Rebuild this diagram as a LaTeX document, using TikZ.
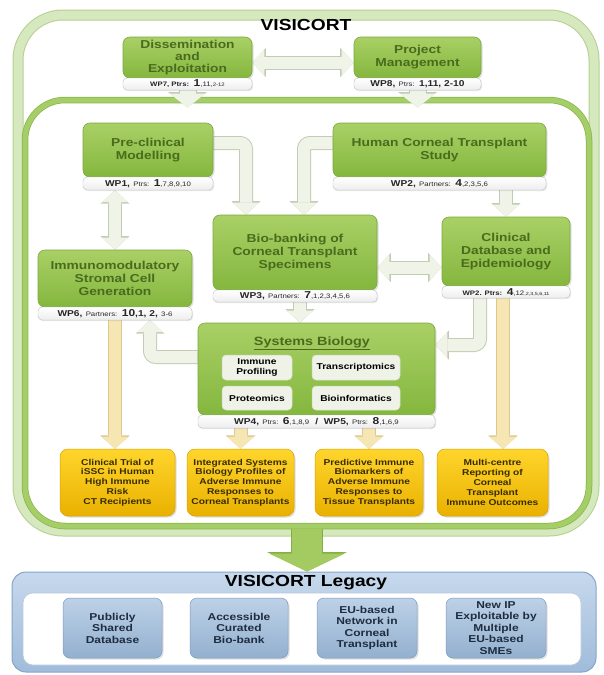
\documentclass[tikz,border=0pt]{standalone}
\usepackage{fontspec}
\setmainfont{Liberation Sans}[FakeStretch=1.2]
\usetikzlibrary{arrows.meta,shadows}
\pgfdeclarelayer{bg}
\pgfsetlayers{bg,main}

\definecolor{gtop}{HTML}{A9D066}
\definecolor{gbot}{HTML}{84B73E}
\definecolor{gedge}{HTML}{7BA93C}
\definecolor{gtext}{HTML}{4A6B1E}
\definecolor{ofill}{HTML}{D5E8BE}
\definecolor{oedge}{HTML}{B4D091}
\definecolor{cfill}{HTML}{A6CE68}
\definecolor{cedge}{HTML}{89B54A}
\definecolor{afill}{HTML}{EFF3E8}
\definecolor{aedge}{HTML}{C2CCB3}
\definecolor{tfill}{HTML}{F6E6B4}
\definecolor{tedge}{HTML}{DFC88E}
\definecolor{bfill}{HTML}{A3CB62}
\definecolor{bedge}{HTML}{83B043}
\definecolor{ytop}{HTML}{FFD52C}
\definecolor{ybot}{HTML}{E9B100}
\definecolor{yedge}{HTML}{D6A200}
\definecolor{ytext}{HTML}{3A2C00}
\definecolor{ltop}{HTML}{BDD1E7}
\definecolor{lbot}{HTML}{93B0CF}
\definecolor{ledge}{HTML}{7D9BBE}
\definecolor{ltext}{HTML}{1E2D40}
\definecolor{lftop}{HTML}{C6D8EC}
\definecolor{lfbot}{HTML}{A0BCDA}
\definecolor{lfedge}{HTML}{86A5C8}
\definecolor{subfill}{HTML}{EEF2E7}
\definecolor{subedge}{HTML}{D3DCC6}

% label parts
\newcommand{\wpid}[1]{{\fontsize{8.5}{10}\selectfont\bfseries #1}}
\newcommand{\wpsm}[1]{{\fontsize{6.5}{10}\selectfont #1}}
\newcommand{\wpno}[1]{{\fontsize{10}{10}\selectfont\bfseries #1}}

\begin{document}
\begin{tikzpicture}[x=1pt,y=-1pt,
  outerframe/.style={draw=ofill, line width=9pt, rounded corners=45pt,
    preaction={draw=oedge, line width=11pt}},
  coreframe/.style={draw=cfill, line width=5pt, rounded corners=40pt,
    preaction={draw=cedge, line width=6.5pt}},
  legframe/.style={draw=lfedge, line width=1pt, top color=lftop, bottom color=lfbot,
    rounded corners=14pt},
  leginner/.style={fill=white, draw=lfedge!60, line width=0.6pt, rounded corners=10pt},
  wpbox/.style={rectangle, rounded corners=7pt, draw=gedge, line width=0.6pt,
    top color=gtop, bottom color=gbot, text=gtext, align=center, inner sep=1pt,
    font=\bfseries\fontsize{11.5}{13}\selectfont,
    drop shadow={opacity=0.25, shadow xshift=1.5pt, shadow yshift=-1.5pt}},
  wplab/.style={rectangle, rounded corners=4pt, draw=black!25, line width=0.4pt,
    top color=white, bottom color=black!7, inner sep=0pt, minimum height=12pt,
    text=black!85, drop shadow={opacity=0.2, shadow xshift=1pt, shadow yshift=-1pt}},
  subbox/.style={rectangle, rounded corners=4pt, fill=subfill, draw=subedge,
    line width=0.5pt, align=center, inner sep=1pt,
    font=\bfseries\fontsize{8.5}{9.5}\selectfont},
  ybox/.style={rectangle, rounded corners=8pt, top color=ytop, bottom color=ybot,
    draw=yedge, line width=0.5pt, align=center, text=ytext, inner sep=1pt,
    minimum height=67pt, font=\bfseries\fontsize{8.5}{9.8}\selectfont,
    drop shadow={opacity=0.25, shadow xshift=1.5pt, shadow yshift=-1.5pt}},
  lbox/.style={rectangle, rounded corners=7pt, top color=ltop, bottom color=lbot,
    draw=ledge, line width=0.5pt, align=center, text=ltext, inner sep=1pt,
    minimum height=60pt, font=\bfseries\fontsize{10}{11.5}\selectfont,
    drop shadow={opacity=0.25, shadow xshift=1.5pt, shadow yshift=-1.5pt}},
  garrow/.style={draw=afill, line width=12pt, rounded corners=6pt,
    -{Triangle[width=26pt,length=12pt,line width=0pt]},
    preaction={draw=aedge, line width=14pt,
      -{Triangle[width=29pt,length=13.5pt,line width=0pt]}}},
  gboth/.style={draw=afill, line width=12pt,
    {Triangle[width=26pt,length=12pt,line width=0pt]}-{Triangle[width=26pt,length=12pt,line width=0pt]},
    preaction={draw=aedge, line width=14pt,
      {Triangle[width=29pt,length=13.5pt,line width=0pt]}-{Triangle[width=29pt,length=13.5pt,line width=0pt]}}},
  gdown/.style={draw=afill, line width=16pt,
    -{Triangle[width=36pt,length=14pt,line width=0pt]},
    preaction={draw=aedge, line width=18pt,
      -{Triangle[width=39pt,length=15.5pt,line width=0pt]}}},
  tarrow/.style={draw=tfill, line width=12pt,
    -{Triangle[width=27pt,length=12pt,line width=0pt]},
    preaction={draw=tedge, line width=14pt,
      -{Triangle[width=30pt,length=13.5pt,line width=0pt]}}},
  bigarrow/.style={draw=bfill, line width=30pt,
    -{Triangle[width=76pt,length=18pt,line width=0pt]},
    preaction={draw=bedge, line width=32pt,
      -{Triangle[width=80pt,length=19.5pt,line width=0pt]}}}]
\useasboundingbox (0,0) rectangle (603,675);

% frames
\begin{pgfonlayer}{bg}
\node[outerframe, minimum width=576pt, minimum height=516pt] (visicort) at (306,273) {};
\node[coreframe, minimum width=564pt, minimum height=426pt] (core) at (307,313) {};
\node[legframe, minimum width=584pt, minimum height=100pt] (legacy) at (304,622) {};
\node[leginner, minimum width=558pt, minimum height=72pt] (legin) at (302,629) {};
\end{pgfonlayer}
\node[font=\bfseries\fontsize{16}{16}\selectfont] (vtitle) at (306,25) {VISICORT};
\node[font=\bfseries\fontsize{16}{16}\selectfont] (ltitle) at (306,583) {VISICORT Legacy};

% management work packages
\node[wpbox, minimum width=129pt, minimum height=41pt,
  font=\bfseries\fontsize{11.5}{12}\selectfont] (diss) at (187.5,57.5) {Dissemination\\and\\Exploitation};
\node[wplab, minimum width=129pt] (disswp) at (187.5,84)
  {{\fontsize{6.5}{8}\selectfont\bfseries WP7, Ptrs:} \wpno{1}\wpsm{,11,}{\fontsize{5}{6}\selectfont 2-12}};
\node[wpbox, minimum width=127pt, minimum height=41pt] (pm) at (417.5,57.5) {Project\\Management};
\node[wplab, minimum width=127pt] (pmwp) at (417.5,84)
  {\wpid{WP8,} \wpsm{Ptrs:} \wpid{1,11, 2-10}};

% research work packages
\node[wpbox, minimum width=130pt, minimum height=54pt] (pre) at (148,150) {Pre-clinical\\Modelling};
\node[wplab, minimum width=130pt, minimum height=13pt] (prewp) at (148,183.5)
  {\wpid{WP1,} \wpsm{Ptrs:} \wpno{1}\wpsm{,7,8,9,10}};
\node[wpbox, minimum width=213pt, minimum height=54pt] (hc) at (439.5,150) {Human Corneal Transplant\\Study};
\node[wplab, minimum width=213pt, minimum height=13pt] (hcwp) at (439.5,183.5)
  {\wpid{WP2,} \wpsm{Partners:} \wpno{4}\wpsm{,2,3,5,6}};
\node[wpbox, minimum width=164pt, minimum height=75pt] (bio) at (295,252.5) {Bio-banking of\\Corneal Transplant\\Specimens};
\node[wplab, minimum width=164pt] (biowp) at (295,296)
  {\wpid{WP3,} \wpsm{Partners:} \wpno{7}\wpsm{,1,2,3,4,5,6}};
\node[wpbox, minimum width=128pt, minimum height=69pt] (clin) at (506,251.5) {Clinical\\Database and\\Epidemiology};
\node[wplab, minimum width=128pt] (clinwp) at (506,292)
  {{\fontsize{6.5}{8}\selectfont\bfseries WP2. Ptrs:} \wpno{4}\wpsm{,12}{\fontsize{4.5}{6}\selectfont ,2,3,5,6,11}};
\node[wpbox, minimum width=154pt, minimum height=57pt] (imm) at (115,278.5) {Immunomodulatory\\Stromal Cell\\Generation};
\node[wplab, minimum width=154pt, minimum height=13pt] (immwp) at (115,313.5)
  {\wpid{WP6,} \wpsm{Partners:} \wpno{10}\wpid{,1, 2,} \wpsm{3-6}};
\node[wpbox, minimum width=237pt, minimum height=92pt] (sb) at (316.5,369) {};
\node[wplab, minimum width=237pt, minimum height=13pt] (sbwp) at (316.5,421.5)
  {\wpid{WP4,} \wpsm{Ptrs:} \wpno{6}\wpsm{,1,8,9} \wpid{~/~ WP5,} \wpsm{Ptrs:} \wpno{8}\wpsm{,1,6,9}};
\node[text=gtext, font=\bfseries\fontsize{12}{12}\selectfont] (sbtitle) at (312,343) {\underline{Systems Biology}};
\node[subbox, minimum width=70pt, minimum height=25pt] (ip) at (257,367.5) {Immune\\Profiling};
\node[subbox, minimum width=88pt, minimum height=25pt] (tr) at (356,367.5) {Transcriptomics};
\node[subbox, minimum width=70pt, minimum height=24pt] (pr) at (257,398) {Proteomics};
\node[subbox, minimum width=88pt, minimum height=24pt] (bi) at (356,398) {Bioinformatics};

% outcomes
\node[ybox, minimum width=115pt] (y1) at (117.5,482.5) {Clinical Trial of\\iSSC in Human\\High Immune\\Risk\\CT Recipients};
\node[ybox, minimum width=107pt] (y2) at (240.5,482.5) {Integrated Systems\\Biology Profiles of\\Adverse Immune\\Responses to\\Corneal Transplants};
\node[ybox, minimum width=108pt] (y3) at (369,482.5) {Predictive Immune\\Biomarkers of\\Adverse Immune\\Responses to\\Tissue Transplants};
\node[ybox, minimum width=111pt] (y4) at (492.5,482.5) {Multi-centre\\Reporting of\\Corneal\\Transplant\\Immune Outcomes};

% legacy
\node[lbox, minimum width=99pt] (l1) at (112.5,628) {Publicly\\Shared\\Database};
\node[lbox, minimum width=98pt] (l2) at (239,628) {Accessible\\Curated\\Bio-bank};
\node[lbox, minimum width=100pt] (l3) at (367,628) {EU-based\\Network in\\Corneal\\Transplant};
\node[lbox, minimum width=100pt] (l4) at (496,628) {New IP\\Exploitable by\\Multiple\\EU-based\\SMEs};

% arrows
\begin{pgfonlayer}{bg}
\draw[gboth] ([yshift=-5pt]diss.east) -- ([yshift=-5pt]pm.west);
\draw[gdown] (disswp.south) -- ([yshift=-10pt]disswp.south |- core.north);
\draw[gdown] (pmwp.south) -- ([yshift=-10pt]pmwp.south |- core.north);
\draw[garrow] ([yshift=7pt]pre.east) -| ([xshift=-49pt]bio.north);
\draw[garrow] ([yshift=7pt]hc.west) -| ([xshift=9pt]bio.north);
\draw[garrow] (clin.north |- hcwp.south) -- (clin.north);
\draw[gboth] (imm.north |- prewp.south) -- (imm.north);
\coordinate (bc) at ([yshift=-15pt]bio.east);
\draw[gboth] (bc) -- (bc -| clin.west);
\draw[garrow] ([xshift=5pt]biowp.south) -- ([xshift=5pt]biowp.south |- sb.north);
\draw[garrow] ([yshift=12pt]sb.west) -| ([xshift=35pt]immwp.south);
\draw[garrow] ([xshift=-26pt]clinwp.south) |- ([yshift=24pt]sb.east);
\draw[tarrow] (immwp.south) -- (immwp.south |- y1.north);
\draw[tarrow] (sbwp.south -| y2.north) -- (y2.north);
\draw[tarrow] (sbwp.south -| y3.north) -- (y3.north);
\draw[tarrow] ([xshift=-3pt]clinwp.south) -- ([xshift=-3pt]clinwp.south |- y4.north);
\draw[bigarrow] (core.south) -- (core.south |- legacy.north);
\end{pgfonlayer}
\end{tikzpicture}
\end{document}
